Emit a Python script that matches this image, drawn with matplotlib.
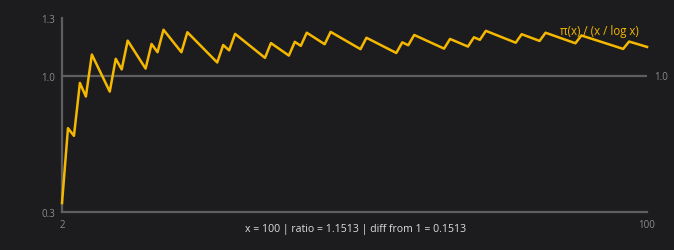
import matplotlib.pyplot as plt

# vertices of the sawtooth: each prime p and the integer just before it
x_vals = [2, 3, 4, 5, 6, 7, 10, 11, 12, 13, 16, 17, 18, 19, 22, 23, 28, 29, 30, 31,
          36, 37, 40, 41, 42, 43, 46, 47, 52, 53, 58, 59, 60, 61, 66, 67, 70, 71, 72, 73,
          78, 79, 82, 83, 88, 89, 96, 97, 100]
ratio = [0.3466, 0.7324, 0.6931, 0.9657, 0.8959, 1.1120, 0.9210, 1.0900, 1.0354, 1.1838,
         1.0397, 1.1666, 1.1240, 1.2398, 1.1240, 1.2269, 1.0711, 1.1611, 1.1337, 1.2185,
         1.0950, 1.1711, 1.1067, 1.1775, 1.1569, 1.2246, 1.1652, 1.2288, 1.1398, 1.1986,
         1.1201, 1.1749, 1.1601, 1.2130, 1.1426, 1.1924, 1.1532, 1.2008, 1.1880, 1.2342,
         1.1730, 1.2168, 1.1823, 1.2245, 1.1702, 1.2104, 1.1411, 1.1790, 1.1513]
y_ticks = [0.3, 1.0, 1.3]
x_ticks = [2, 100]

bg = '#1c1c1e'
grey = '#8a8a8a'
gold = '#f5b800'

plt.rcParams['font.family'] = ['Open Sans', 'DejaVu Sans']

fig = plt.figure(figsize=(6.74, 2.51), dpi=100, facecolor=bg)
ax = fig.add_axes([0.092, 0.151, 0.868, 0.773])
ax.set_facecolor(bg)

ax.set_xlim(2, 100)
ax.set_ylim(0.3, 1.3)

ax.axhline(1.0, color='#5e5e5e', lw=1.6, zorder=1)
ax.plot(x_vals, ratio, color=gold, lw=1.8, zorder=3, clip_on=False)

for s in ['top', 'right']:
    ax.spines[s].set_visible(False)
for s in ['left', 'bottom']:
    ax.spines[s].set_color('#5e5e5e')
    ax.spines[s].set_linewidth(1.6)

ax.set_yticks(y_ticks)
ax.set_yticklabels(['0.3', '1.0', '1.3'])
ax.set_xticks(x_ticks)
ax.set_xticklabels(['2', '100'])
ax.tick_params(colors=grey, labelsize=7, length=0, pad=5)

# right-hand label for the 1.0 line
ax.text(1.012, 1.0, '1.0', transform=ax.get_yaxis_transform(), color=grey,
        fontsize=7, va='center', ha='left')

ax.text(98.6, 1.238, 'π(x) / (x / log x)', color=gold, fontsize=8.3,
        ha='right', va='center')

fig.text(0.528, 0.084, 'x = 100 | ratio = 1.1513 | diff from 1 = 0.1513',
         color='#dddddd', fontsize=7.6, ha='center', va='center')

fig.savefig('out.png', dpi=100, facecolor=bg)
